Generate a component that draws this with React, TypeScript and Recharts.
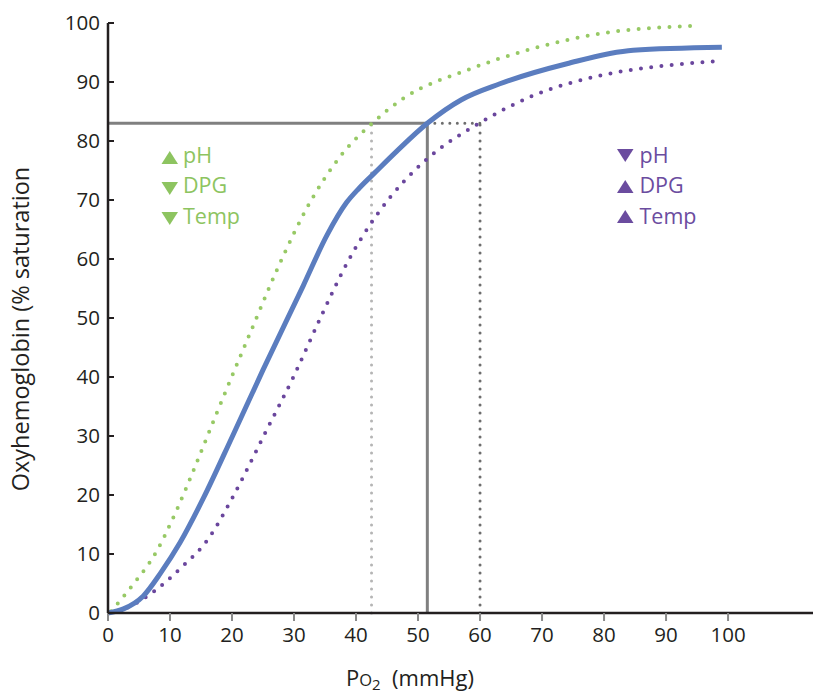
import { LineChart, Line, XAxis, YAxis, ReferenceLine } from 'recharts';

// curve points (PO2 mmHg, % saturation)
const normalCurve = [
  { x: 0, y: 0 }, { x: 2.5, y: 0.7 }, { x: 5.7, y: 2.9 }, { x: 8.5, y: 6.8 },
  { x: 11.6, y: 11.9 }, { x: 15.4, y: 19.5 }, { x: 20, y: 29.8 }, { x: 25, y: 41.2 },
  { x: 31.5, y: 55.5 }, { x: 35.3, y: 64 }, { x: 38.5, y: 69.6 }, { x: 40.5, y: 72 },
  { x: 43, y: 74.6 }, { x: 46.5, y: 78.2 }, { x: 51.5, y: 83 }, { x: 57, y: 87 },
  { x: 63.2, y: 89.7 }, { x: 74, y: 93.1 }, { x: 84.7, y: 95.4 }, { x: 99, y: 95.9 },
];
const leftShift = [
  { x: 0.5, y: 0.3 }, { x: 4.4, y: 5.3 }, { x: 7.3, y: 9.5 }, { x: 11.1, y: 17.5 },
  { x: 13.8, y: 24.2 }, { x: 17.5, y: 33.8 }, { x: 22.9, y: 47.4 }, { x: 28.3, y: 60.6 },
  { x: 32, y: 68.5 }, { x: 37.7, y: 77.7 }, { x: 42.5, y: 82.9 }, { x: 47.9, y: 87.4 },
  { x: 57.9, y: 92 }, { x: 68.6, y: 95.7 }, { x: 79.4, y: 98.2 }, { x: 94, y: 99.5 },
];
const rightShift = [
  { x: 0, y: 0 }, { x: 3.3, y: 1 }, { x: 7.6, y: 3.8 }, { x: 11.6, y: 7.5 },
  { x: 16.2, y: 12.6 }, { x: 20.2, y: 19.8 }, { x: 23.7, y: 27 }, { x: 25.3, y: 30.4 },
  { x: 29.9, y: 40 }, { x: 34.2, y: 49.9 }, { x: 38.8, y: 59.8 }, { x: 43.3, y: 67.4 },
  { x: 47.6, y: 73 }, { x: 51.5, y: 77 }, { x: 60, y: 83.1 }, { x: 68.6, y: 87.7 },
  { x: 79.4, y: 91.1 }, { x: 90.1, y: 92.8 }, { x: 98, y: 93.5 },
];

const xTicks = [0, 10, 20, 30, 40, 50, 60, 70, 80, 90, 100];
const yTicks = [0, 10, 20, 30, 40, 50, 60, 70, 80, 90, 100];

const SAT = 83;
const P_NORMAL = 51.5;
const P_LEFT = 42.5;
const P_RIGHT = 60;

const FONT = '"Open Sans", sans-serif';
const INK = '#231f20';
const GREEN = '#8dc460';
const PURPLE = '#6b4c9f';

const leftLabels = [
  { up: true, text: 'pH' },
  { up: false, text: 'DPG' },
  { up: false, text: 'Temp' },
];
const rightLabels = [
  { up: false, text: 'pH' },
  { up: true, text: 'DPG' },
  { up: true, text: 'Temp' },
];

function YTick(props: any) {
  const { x, y, payload } = props;
  return (
    <g>
      <line x1={x + 8} x2={x + 14} y1={y} y2={y} stroke={INK} strokeWidth={2} />
      <text x={x} y={y} dy="0.36em" textAnchor="end" fill={INK} fontSize={20.5} fontFamily={FONT}>
        {payload.value}
      </text>
    </g>
  );
}

function XTitle(props: any) {
  const { viewBox } = props;
  const cx = viewBox.x + 302;
  return (
    <text x={cx} y={686} textAnchor="middle" fill={INK} fontSize={22} fontFamily={FONT}>
      P<tspan fontSize={16.5}>O</tspan>
      <tspan fontSize={15} dy={4}>2</tspan>
      <tspan dy={-4}>{'\u00a0\u00a0(mmHg)'}</tspan>
    </text>
  );
}

function YTitle() {
  return (
    <text
      x={29}
      y={329}
      transform="rotate(-90 29 329)"
      textAnchor="middle"
      fill={INK}
      fontSize={23.5}
      fontFamily={FONT}
    >
      Oxyhemoglobin (% saturation
    </text>
  );
}

function Tri({ x, y, up, color }: { x: number; y: number; up: boolean; color: string }) {
  const pts = up
    ? `${x},${y + 13} ${x + 16.5},${y + 13} ${x + 8.25},${y}`
    : `${x},${y} ${x + 16.5},${y} ${x + 8.25},${y + 13}`;
  return <polygon points={pts} fill={color} />;
}

function Labels() {
  const rows = [151, 182, 212];
  const baselines = [162.5, 193.3, 223.8];
  return (
    <svg width={820} height={696} style={{ position: 'absolute', left: 0, top: 0, pointerEvents: 'none' }}>
      {leftLabels.map((l, i) => (
        <g key={'l' + i}>
          <Tri x={161.5} y={rows[i]} up={l.up} color={GREEN} />
          <text x={183} y={baselines[i]} fill={GREEN} fontSize={21.5} fontFamily={FONT}>{l.text}</text>
        </g>
      ))}
      {rightLabels.map((l, i) => (
        <g key={'r' + i}>
          <Tri x={617} y={rows[i] - 2} up={l.up} color={PURPLE} />
          <text x={639.5} y={baselines[i]} fill={PURPLE} fontSize={21.5} fontFamily={FONT}>{l.text}</text>
        </g>
      ))}
    </svg>
  );
}

export default function App() {
  return (
    <div style={{ position: 'absolute', left: 0, top: 0, width: 820, height: 696, background: '#fff' }}>
      <LineChart width={820} height={696} margin={{ top: 23, right: 7, bottom: 0, left: 0 }}>
        <XAxis
          type="number"
          dataKey="x"
          domain={[0, 113.7]}
          ticks={xTicks}
          allowDataOverflow
          height={83}
          tickSize={8}
          tickMargin={6}
          tick={{ fill: INK, fontSize: 20.5, fontFamily: FONT }}
          tickLine={{ stroke: '#8a8a8a', strokeWidth: 2 }}
          axisLine={{ stroke: INK, strokeWidth: 2.5 }}
          label={<XTitle />}
        />
        <YAxis
          type="number"
          dataKey="y"
          domain={[0, 100]}
          ticks={yTicks}
          width={108}
          tickSize={0}
          tickMargin={8}
          tickLine={false}
          tick={<YTick />}
          axisLine={{ stroke: INK, strokeWidth: 2.5 }}
          label={<YTitle />}
        />
        <ReferenceLine
          segment={[{ x: 0, y: SAT }, { x: P_NORMAL, y: SAT }]}
          stroke="#808080"
          strokeWidth={3}
        />
        <ReferenceLine
          segment={[{ x: P_NORMAL, y: 0 }, { x: P_NORMAL, y: SAT }]}
          stroke="#808080"
          strokeWidth={3}
        />
        <ReferenceLine
          segment={[{ x: P_NORMAL, y: SAT }, { x: P_RIGHT, y: SAT }]}
          stroke="#6d6d6d"
          strokeWidth={3}
          strokeDasharray="0 7.5"
          strokeLinecap="round"
        />
        <ReferenceLine
          segment={[{ x: P_RIGHT, y: 0 }, { x: P_RIGHT, y: SAT }]}
          stroke="#6d6d6d"
          strokeWidth={3}
          strokeDasharray="0 8"
          strokeLinecap="round"
        />
        <ReferenceLine
          segment={[{ x: P_LEFT, y: 0 }, { x: P_LEFT, y: SAT }]}
          stroke="#b5b5b5"
          strokeWidth={3}
          strokeDasharray="0 8"
          strokeLinecap="round"
        />
        <Line
          data={leftShift}
          dataKey="y"
          type="monotone"
          stroke="#97c965"
          strokeWidth={4}
          strokeDasharray="0 10.3"
          strokeLinecap="round"
          dot={false}
          activeDot={false}
          isAnimationActive={false}
        />
        <Line
          data={rightShift}
          dataKey="y"
          type="monotone"
          stroke="#6a469d"
          strokeWidth={4}
          strokeDasharray="0 10.3"
          strokeLinecap="round"
          dot={false}
          activeDot={false}
          isAnimationActive={false}
        />
        <Line
          data={normalCurve}
          dataKey="y"
          type="monotone"
          stroke="#5b7dbf"
          strokeWidth={5}
          dot={false}
          activeDot={false}
          isAnimationActive={false}
        />
      </LineChart>
      <Labels />
    </div>
  );
}
